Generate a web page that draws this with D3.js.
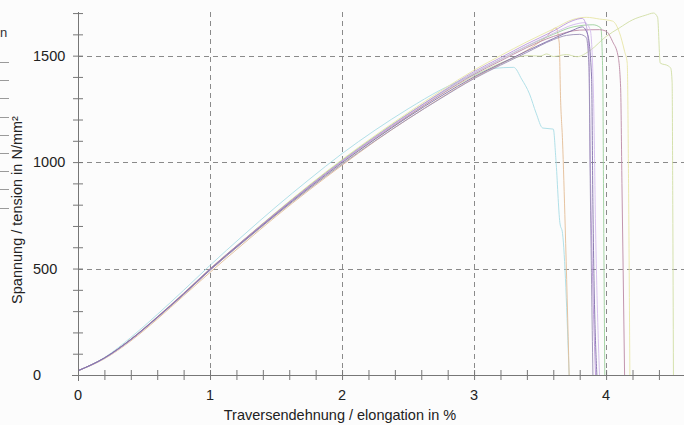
<!DOCTYPE html>
<html>
<head>
<meta charset="utf-8">
<script src="https://cdn.jsdelivr.net/npm/d3@7"></script>
<style>
  body { margin: 0; background: #fcfcfc; }
  svg { display: block; font-family: "Liberation Sans", Arial, sans-serif; }
</style>
</head>
<body>
<script>
var width = 684,
    height = 425;

// specimens: [elongation %, tension N/mm²]
var cyan = [[0,20],[0.2,82],[0.4,176],[0.6,284],[0.8,398],[1,515],[1.25,655],[1.5,790],[1.75,918],[2,1040],[2.25,1150],[2.5,1250],[2.75,1340],[3,1410],[3.15,1440],[3.3,1445],[3.36,1390],[3.42,1320],[3.47,1230],[3.52,1160],[3.6,1155],[3.62,1010],[3.65,715],[3.67,665],[3.72,0]];
var tan = [[0,20],[0.2,76],[0.4,160],[0.6,262],[0.8,372],[1,482],[1.25,615],[1.5,745],[1.75,868],[2,985],[2.25,1098],[2.5,1203],[2.75,1302],[3,1395],[3.2,1460],[3.4,1525],[3.55,1590],[3.62,1630],[3.645,1560],[3.655,1300],[3.67,1100],[3.69,700],[3.72,0]];
var yellow = [[0,20],[0.2,80],[0.4,168],[0.6,272],[0.8,383],[1,498],[1.25,633],[1.5,765],[1.75,892],[2,1012],[2.25,1125],[2.5,1232],[2.75,1335],[3,1432],[3.2,1500],[3.4,1565],[3.6,1625],[3.75,1670],[3.85,1680],[3.95,1672],[4.05,1662],[4.1,1610],[4.14,1520],[4.16,1465],[4.17,900],[4.18,0]];
var violet = [[0,20],[0.2,79],[0.4,166],[0.6,270],[0.8,380],[1,495],[1.25,630],[1.5,760],[1.75,885],[2,1005],[2.25,1118],[2.5,1225],[2.75,1328],[3,1425],[3.2,1490],[3.4,1555],[3.6,1615],[3.75,1665],[3.82,1675],[3.85,1640],[3.87,1500],[3.88,1000],[3.9,400],[3.92,0]];
var darkPurple = [[0,20],[0.2,80],[0.4,167],[0.6,271],[0.8,381],[1,496],[1.25,628],[1.5,756],[1.75,880],[2,998],[2.25,1108],[2.5,1212],[2.75,1310],[3,1400],[3.2,1462],[3.4,1522],[3.6,1580],[3.75,1620],[3.82,1635],[3.86,1600],[3.89,1400],[3.9,800],[3.93,0]];
var lavender = [[0,20],[0.2,78],[0.4,164],[0.6,268],[0.8,378],[1,492],[1.25,626],[1.5,757],[1.75,884],[2,1004],[2.25,1116],[2.5,1222],[2.75,1322],[3,1418],[3.2,1482],[3.4,1546],[3.6,1605],[3.75,1645],[3.84,1655],[3.88,1620],[3.905,1300],[3.92,700],[3.95,0]];
var green = [[0,20],[0.2,79],[0.4,167],[0.6,270],[0.8,381],[1,497],[1.25,631],[1.5,762],[1.75,888],[2,1008],[2.25,1120],[2.5,1226],[2.75,1325],[3,1418],[3.2,1482],[3.4,1545],[3.6,1600],[3.75,1635],[3.9,1645],[3.96,1630],[3.975,1400],[3.98,900],[3.99,0]];
var mauve = [[0,20],[0.2,80],[0.4,168],[0.6,273],[0.8,384],[1,499],[1.25,632],[1.5,761],[1.75,886],[2,1004],[2.25,1114],[2.5,1218],[2.75,1318],[3,1412],[3.2,1475],[3.4,1538],[3.6,1590],[3.8,1620],[3.95,1622],[4,1615],[4.05,1565],[4.09,1500],[4.11,1350],[4.12,900],[4.14,0]];
var olive = [[0,20],[0.2,78],[0.4,165],[0.6,268],[0.8,378],[1,492],[1.25,624],[1.5,752],[1.75,876],[2,995],[2.25,1108],[2.5,1215],[2.75,1318],[3,1405],[3.2,1465],[3.3,1488],[3.4,1500],[3.5,1498],[3.55,1508],[3.6,1496],[3.7,1505],[3.78,1495],[3.88,1525],[4,1590],[4.1,1630],[4.2,1668],[4.3,1690],[4.36,1700],[4.39,1680],[4.41,1465],[4.47,1452],[4.49,1440],[4.5,1375],[4.505,800],[4.51,0]];
var slate = [[0,20],[0.2,80],[0.4,166],[0.6,269],[0.8,378],[1,492],[1.25,624],[1.5,752],[1.75,874],[2,990],[2.25,1100],[2.5,1203],[2.75,1300],[3,1392],[3.2,1455],[3.4,1515],[3.6,1575],[3.7,1595],[3.8,1600],[3.85,1585],[3.87,1450],[3.88,900],[3.9,0]];

var specimens = [cyan, tan, olive, yellow, green, mauve, lavender, violet, slate, darkPurple];
var colors = ["#a9dde5", "#e3bd96", "#d0dea4", "#e8e5a6", "#9ccf9c", "#bb8aa4", "#d3baec", "#bb98dc", "#9a8fb6", "#7f6eaa"];

var xMajor = [0, 1, 2, 3, 4];
var yMajor = [0, 500, 1000, 1500];

var x = d3.scaleLinear().domain([0, 4.59]).range([78, 684]);
var y = d3.scaleLinear().domain([0, 1705]).range([375, 12]);

var svg = d3.select("body").append("svg")
    .attr("width", width)
    .attr("height", height);

svg.append("rect").attr("width", width).attr("height", height).attr("fill", "#fcfcfc");

// cropped neighbour figure on the far left
var strip = svg.append("g").attr("stroke", "#9a9a9a").attr("stroke-width", 1);
d3.range(62, 215, 18.2).forEach(function (v) {
    strip.append("line").attr("x1", 0).attr("x2", 9).attr("y1", Math.round(v) + 0.5).attr("y2", Math.round(v) + 0.5);
});
svg.append("text").attr("x", 0).attr("y", 37).attr("font-size", 13).attr("fill", "#333").text("n");

// grid
var grid = svg.append("g").attr("stroke", "#8a8a8a").attr("stroke-width", 1).attr("stroke-dasharray", "5,4");
grid.selectAll(".vg").data(xMajor.slice(1)).enter().append("line")
    .attr("x1", function (d) { return Math.round(x(d)) + 0.5; })
    .attr("x2", function (d) { return Math.round(x(d)) + 0.5; })
    .attr("y1", y.range()[1])
    .attr("y2", y(0));
grid.selectAll(".hg").data(yMajor.slice(1)).enter().append("line")
    .attr("x1", x(0))
    .attr("x2", width)
    .attr("y1", function (d) { return Math.round(y(d)) + 0.5; })
    .attr("y2", function (d) { return Math.round(y(d)) + 0.5; });

// curves
var line = d3.line()
    .x(function (d) { return x(d[0]); })
    .y(function (d) { return y(d[1]); })
    .curve(d3.curveMonotoneX);

svg.selectAll(".spec").data(specimens).enter().append("path")
    .attr("class", "spec")
    .attr("fill", "none")
    .attr("stroke", function (d, i) { return colors[i]; })
    .attr("stroke-width", 1)
    .attr("stroke-opacity", 0.9)
    .attr("d", line);

// axes
var xAxis = d3.axisBottom(x).tickValues(d3.range(0, 4.5, 0.2)).tickSize(5).tickFormat("");
var gx = svg.append("g").attr("transform", "translate(0," + y(0) + ")").call(xAxis);
gx.select(".domain").attr("d", "M" + (x(0) - 6) + ",0.5H" + width).attr("stroke", "#777");
gx.selectAll(".tick line").attr("y1", -5).attr("stroke", "#777");

var yAxis = d3.axisLeft(y).tickValues(d3.range(0, 1701, 100)).tickSize(5).tickFormat("");
var gy = svg.append("g").attr("transform", "translate(" + x(0) + ",0)").call(yAxis);
gy.select(".domain").attr("d", "M0.5," + y.range()[1] + "V" + (y(0) + 6)).attr("stroke", "#777");
gy.selectAll(".tick line").attr("x1", 5).attr("stroke", "#777");

// tick labels
svg.selectAll(".xl").data(xMajor).enter().append("text")
    .attr("x", function (d) { return x(d); })
    .attr("y", 400)
    .attr("text-anchor", "middle")
    .attr("font-size", 14.5)
    .attr("fill", "#222")
    .text(function (d) { return d; });

svg.selectAll(".yl").data(yMajor).enter().append("text")
    .attr("x", 33)
    .attr("y", function (d) { return y(d) + 5; })
    .attr("font-size", 14.5)
    .attr("fill", "#222")
    .text(function (d) { return d; });

// titles
svg.append("text")
    .attr("x", 340)
    .attr("y", 420)
    .attr("text-anchor", "middle")
    .attr("font-size", 14.5)
    .attr("fill", "#222")
    .text("Traversendehnung / elongation in %");

svg.append("text")
    .attr("transform", "translate(22,210) rotate(-90)")
    .attr("text-anchor", "middle")
    .attr("font-size", 14.5)
    .attr("fill", "#222")
    .text("Spannung / tension in N/mm²");
</script>
</body>
</html>
